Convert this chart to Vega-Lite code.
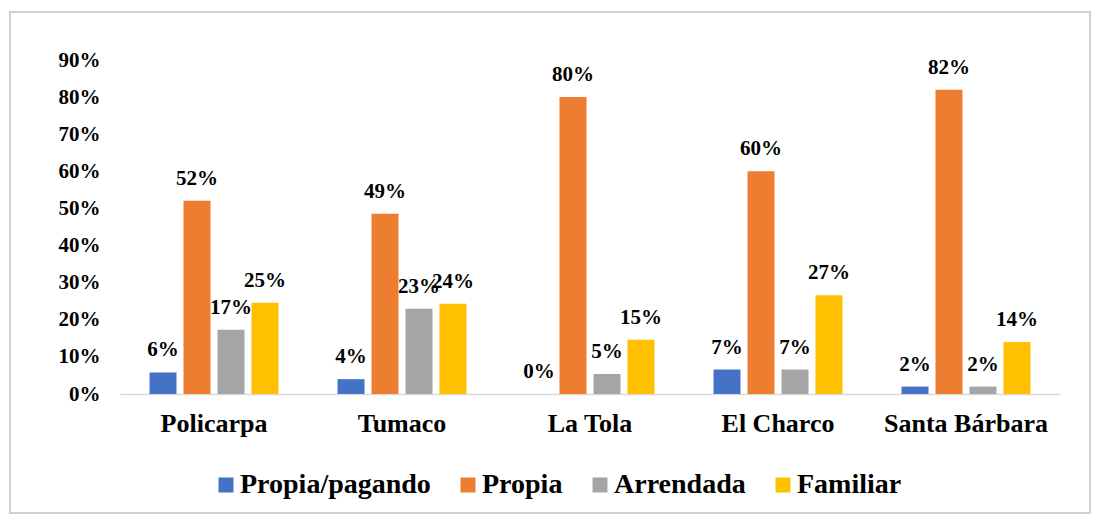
{
  "$schema": "https://vega.github.io/schema/vega-lite/v6.json",
  "autosize": "none",
  "width": 1080,
  "height": 501,
  "padding": {"left": 10, "top": 12, "right": 3, "bottom": 4},
  "background": "white",
  "config": {
    "view": {"stroke": "#cfcfcf", "strokeWidth": 2},
    "font": "Liberation Serif, Times New Roman, serif"
  },
  "data": {
    "values": [
      {"municipio": "Policarpa", "tipo": "Propia/pagando", "valor": 0.058},
      {"municipio": "Policarpa", "tipo": "Propia", "valor": 0.521},
      {"municipio": "Policarpa", "tipo": "Arrendada", "valor": 0.173},
      {"municipio": "Policarpa", "tipo": "Familiar", "valor": 0.246},
      {"municipio": "Tumaco", "tipo": "Propia/pagando", "valor": 0.04},
      {"municipio": "Tumaco", "tipo": "Propia", "valor": 0.486},
      {"municipio": "Tumaco", "tipo": "Arrendada", "valor": 0.23},
      {"municipio": "Tumaco", "tipo": "Familiar", "valor": 0.243},
      {"municipio": "La Tola", "tipo": "Propia/pagando", "valor": 0},
      {"municipio": "La Tola", "tipo": "Propia", "valor": 0.8},
      {"municipio": "La Tola", "tipo": "Arrendada", "valor": 0.054},
      {"municipio": "La Tola", "tipo": "Familiar", "valor": 0.146},
      {"municipio": "El Charco", "tipo": "Propia/pagando", "valor": 0.066},
      {"municipio": "El Charco", "tipo": "Propia", "valor": 0.6},
      {"municipio": "El Charco", "tipo": "Arrendada", "valor": 0.066},
      {"municipio": "El Charco", "tipo": "Familiar", "valor": 0.266},
      {"municipio": "Santa Bárbara", "tipo": "Propia/pagando", "valor": 0.02},
      {"municipio": "Santa Bárbara", "tipo": "Propia", "valor": 0.82},
      {"municipio": "Santa Bárbara", "tipo": "Arrendada", "valor": 0.02},
      {"municipio": "Santa Bárbara", "tipo": "Familiar", "valor": 0.14}
    ]
  },
  "encoding": {
    "x": {
      "field": "municipio",
      "type": "nominal",
      "sort": ["Policarpa", "Tumaco", "La Tola", "El Charco", "Santa Bárbara"],
      "scale": {"range": [110, 1050], "paddingInner": 0, "paddingOuter": 0},
      "axis": {
        "title": null,
        "offset": -119,
        "domainColor": "#d9d9d9",
        "domainWidth": 1.5,
        "ticks": false,
        "labelAngle": 0,
        "labelFont": "Liberation Serif, Times New Roman, serif",
        "labelFontWeight": "bold",
        "labelFontSize": 26,
        "labelColor": "black",
        "labelBaseline": "alphabetic",
        "labelPadding": 37
      }
    },
    "xOffset": {
      "field": "tipo",
      "type": "nominal",
      "sort": ["Propia/pagando", "Propia", "Arrendada", "Familiar"],
      "scale": {"paddingInner": 0.206, "paddingOuter": 0.868}
    },
    "y": {
      "field": "valor",
      "type": "quantitative",
      "scale": {"domain": [0, 0.9], "range": [382, 48], "nice": false},
      "axis": {
        "title": null,
        "offset": -110,
        "values": [0, 0.1, 0.2, 0.3, 0.4, 0.5, 0.6, 0.7, 0.8, 0.9],
        "format": ".0%",
        "domain": false,
        "ticks": false,
        "grid": false,
        "labelFont": "Liberation Serif, Times New Roman, serif",
        "labelFontWeight": "bold",
        "labelFontSize": 21,
        "labelColor": "black",
        "labelPadding": 20
      }
    }
  },
  "layer": [
    {
      "mark": {"type": "bar"},
      "encoding": {
        "color": {
          "field": "tipo",
          "type": "nominal",
          "sort": ["Propia/pagando", "Propia", "Arrendada", "Familiar"],
          "scale": {
            "domain": ["Propia/pagando", "Propia", "Arrendada", "Familiar"],
            "range": ["#4472C4", "#ED7D31", "#A5A5A5", "#FFC000"]
          },
          "legend": {
            "title": null,
            "orient": "none",
            "direction": "horizontal",
            "legendX": 202,
            "legendY": 459,
            "symbolType": "square",
            "symbolSize": 225,
            "symbolStrokeWidth": 0,
            "labelFont": "Liberation Serif, Times New Roman, serif",
            "labelFontWeight": "bold",
            "labelFontSize": 28,
            "labelColor": "black",
            "labelOffset": 0,
            "columnPadding": 23,
            "labelLimit": 400
          }
        }
      }
    },
    {
      "mark": {
        "type": "text",
        "baseline": "alphabetic",
        "dy": -16,
        "font": "Liberation Serif, Times New Roman, serif",
        "fontWeight": "bold",
        "fontSize": 21,
        "color": "black"
      },
      "encoding": {
        "text": {"field": "valor", "type": "quantitative", "format": ".0%"}
      }
    }
  ]
}
